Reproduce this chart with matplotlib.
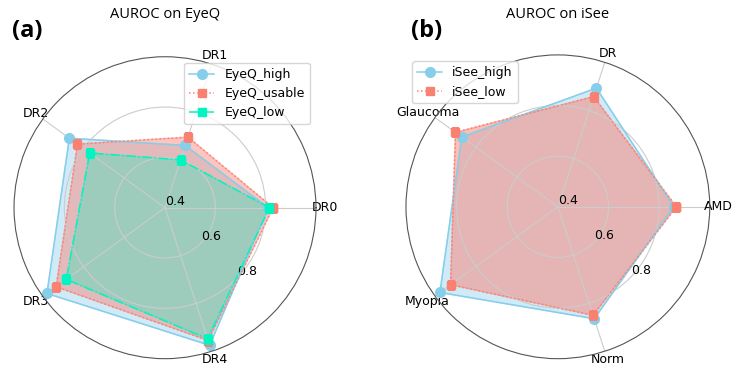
import numpy as np
import matplotlib
matplotlib.use("Agg")
import matplotlib.pyplot as plt

# --- data ---
eyeq_labels = ["DR0", "DR1", "DR2", "DR3", "DR4"]
eyeq_high = [0.81, 0.66, 0.87, 0.98, 0.975]
eyeq_usable = [0.83, 0.695, 0.83, 0.935, 0.955]
eyeq_low = [0.815, 0.60, 0.77, 0.885, 0.948]

isee_labels = ["AMD", "DR", "Glaucoma", "Myopia", "Norm"]
isee_high = [0.858, 0.893, 0.869, 0.976, 0.865]
isee_low = [0.868, 0.858, 0.90, 0.924, 0.851]

r_ticks = [0.4, 0.6, 0.8]

BLUE = "skyblue"
RED = "salmon"
GREEN = "#00F5C0"


def radar(ax, labels, series, legend_loc):
    n = len(labels)
    angles = np.linspace(0, 2 * np.pi, n, endpoint=False)
    closed = np.concatenate([angles, angles[:1]])
    for name, vals, color, ls, marker, ms, alpha in series:
        v = np.concatenate([vals, vals[:1]])
        ax.plot(closed, v, color=color, linestyle=ls, marker=marker,
                markersize=ms, linewidth=1.1, label=name)
        ax.fill(closed, v, color=color, alpha=alpha)
    ax.set_xticks(angles)
    ax.set_xticklabels(labels, fontsize=9)
    ax.tick_params(axis="x", pad=-4)
    ax.set_ylim(0.4, 1.0)
    ax.set_yticks(r_ticks)
    ax.set_yticklabels([str(t) for t in r_ticks], fontsize=9)
    ax.set_rlabel_position(-44)
    ax.grid(color="#cccccc", linewidth=0.8)
    ax.spines["polar"].set_color("#555555")
    ax.spines["polar"].set_linewidth(0.8)
    ax.legend(loc=legend_loc, fontsize=9, handlelength=2.0)


fig = plt.figure(figsize=(7.35, 3.66), dpi=100)

ax1 = fig.add_axes([0.019, 0.02, 0.411, 0.825], projection="polar")
radar(ax1, eyeq_labels, [
    ("EyeQ_high", eyeq_high, BLUE, "-", "o", 7, 0.4),
    ("EyeQ_usable", eyeq_usable, RED, ":", "s", 5.5, 0.45),
    ("EyeQ_low", eyeq_low, GREEN, "-.", "s", 5.5, 0.3),
], "upper right")

ax2 = fig.add_axes([0.552, 0.02, 0.414, 0.83], projection="polar")
radar(ax2, isee_labels, [
    ("iSee_high", isee_high, BLUE, "-", "o", 7, 0.4),
    ("iSee_low", isee_low, RED, ":", "s", 5.5, 0.5),
], "upper left")

fig.text(165 / 735, 1 - 15 / 366, "AUROC on EyeQ", ha="center", va="center",
         fontsize=10.5, family=["Open Sans", "DejaVu Sans"])
fig.text(558 / 735, 1 - 15 / 366, "AUROC on iSee", ha="center", va="center",
         fontsize=10.5, family=["Open Sans", "DejaVu Sans"])
fig.text(12 / 735, 1 - 31 / 366, "(a)", ha="left", va="center",
         fontsize=17, fontweight="bold", family=["Open Sans", "DejaVu Sans"])
fig.text(411 / 735, 1 - 31 / 366, "(b)", ha="left", va="center",
         fontsize=17, fontweight="bold", family=["Open Sans", "DejaVu Sans"])

fig.savefig("out.png", dpi=100)
